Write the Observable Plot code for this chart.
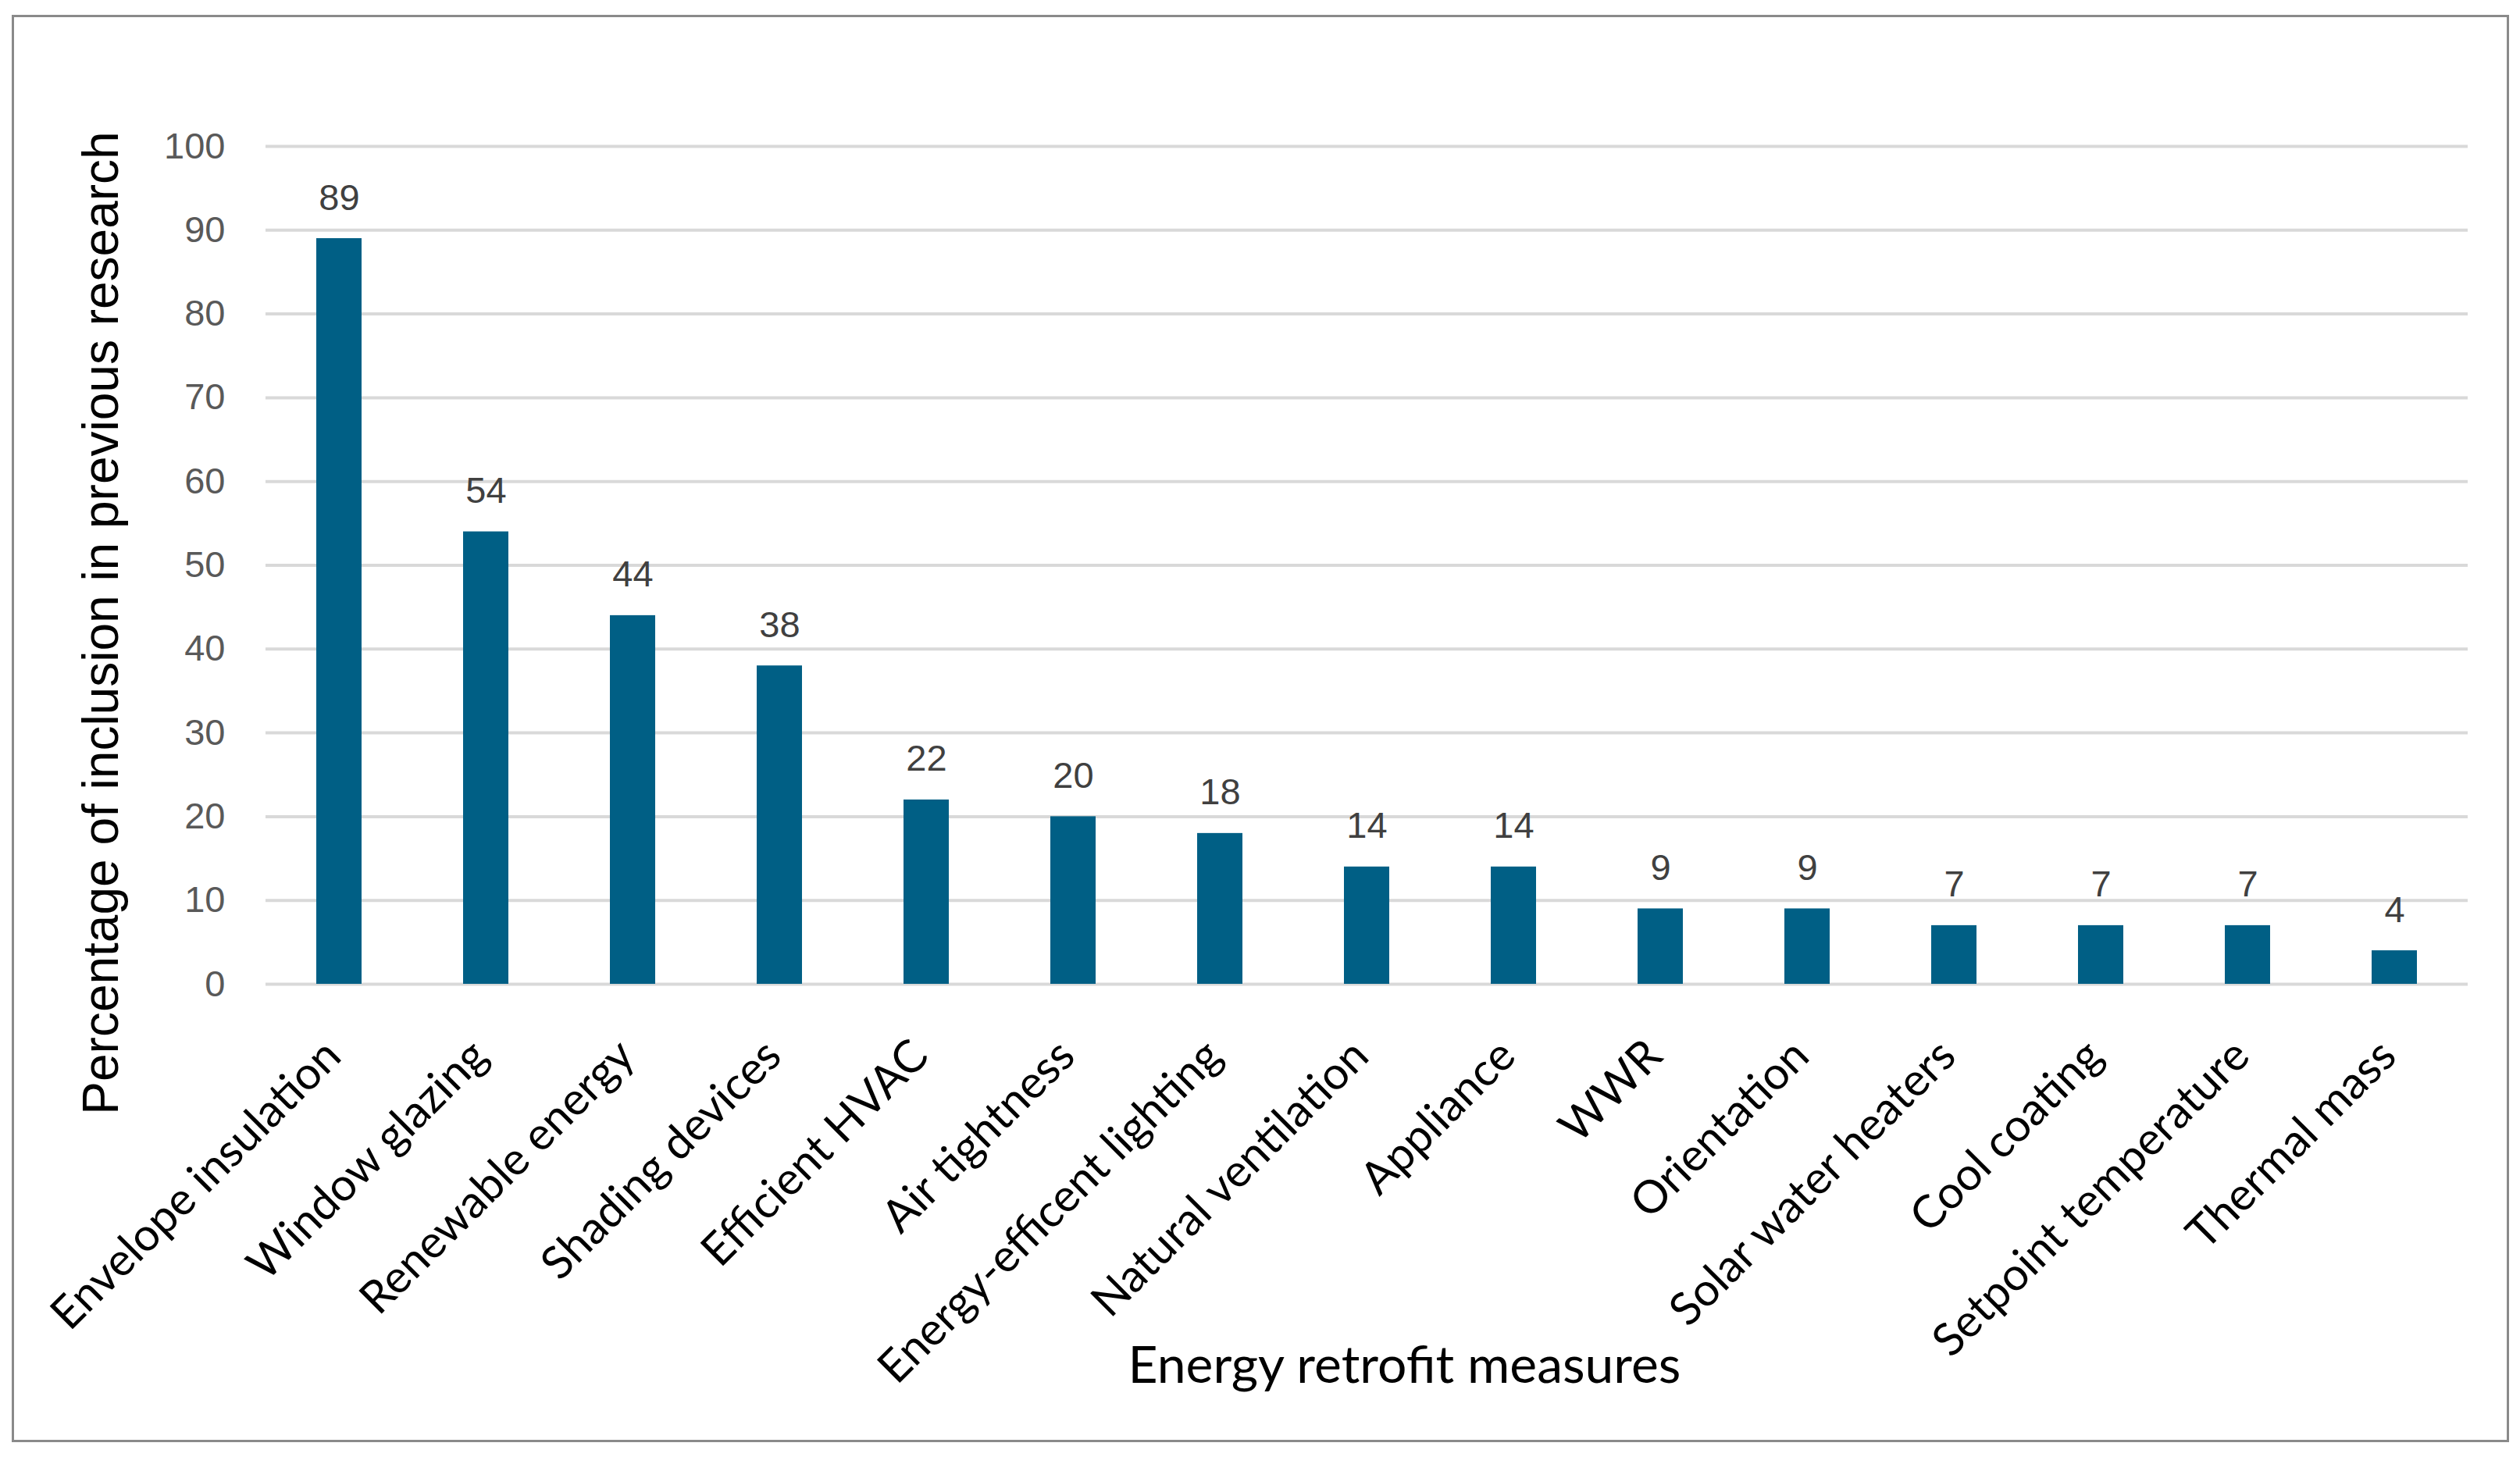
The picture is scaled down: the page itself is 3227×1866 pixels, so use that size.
<!DOCTYPE html>
<html>
<head>
<meta charset="utf-8">
<script src="https://cdn.jsdelivr.net/npm/d3@7"></script>
<script src="https://cdn.jsdelivr.net/npm/@observablehq/plot@0.6"></script>
<style>
  html, body { margin: 0; padding: 0; background: #fff; }
  #wrap { position: relative; width: 3227px; height: 1866px; overflow: hidden; }
  #border { position: absolute; left: 15px; top: 19px; width: 3192px; height: 1822px; border: 3px solid #8a8a8a; pointer-events: none; }
  #chart { position: absolute; left: 0; top: 0; }
</style>
</head>
<body>
<div id="wrap"><div id="chart"></div><div id="border"></div></div>
<script>
const measures = ["Envelope insulation","Window glazing","Renewable energy","Shading devices","Efficient HVAC","Air tightness","Energy-efficent lighting","Natural ventilation","Appliance","WWR","Orientation","Solar water heaters","Cool coating","Setpoint temperature","Thermal mass"];
const percentages = [89,54,44,38,22,20,18,14,14,9,9,7,7,7,4];
const yTicks = [0,10,20,30,40,50,60,70,80,90,100];
const yTitle = "Percentage of inclusion in previous research";
const xTitle = "Energy retrofit measures";

const data = measures.map((m, i) => ({measure: m, value: percentages[i]}));

const chart = Plot.plot({
  width: 3227,
  height: 1866,
  marginLeft: 340,
  marginRight: 67,
  marginTop: 187,
  marginBottom: 606,
  style: {background: "transparent", fontFamily: "Liberation Sans, Arial, sans-serif"},
  x: {domain: measures, paddingInner: 0.69, paddingOuter: 0.345, axis: null},
  y: {domain: [0, 100], axis: null},
  marks: [
    Plot.ruleY(yTicks, {stroke: "#d9d9d9", strokeWidth: 4}),
    Plot.barY(data, {x: "measure", y: "value", fill: "#005f85"}),
    Plot.axisY({ticks: yTicks, tickSize: 0, tickPadding: 52, fontSize: 47, fill: "#595959", fontFamily: "Liberation Sans, Arial, sans-serif", label: null}),
    Plot.text(data, {x: "measure", y: "value", text: d => String(d.value), dy: -52, lineAnchor: "middle", fontSize: 47, fill: "#404040", fontFamily: "Liberation Sans, Arial, sans-serif"}),
    Plot.text(data, {x: "measure", frameAnchor: "bottom", text: "measure", rotate: -45, textAnchor: "end", lineAnchor: "top", dx: -24, dy: 66, fontSize: 58, fill: "#000", fontFamily: "Lato, sans-serif"}),
    Plot.text([yTitle], {frameAnchor: "left", text: d => d, rotate: -90, textAnchor: "middle", dx: -210, dy: 74, lineAnchor: "middle", fontSize: 64, fill: "#000", fontFamily: "Liberation Sans, Arial, sans-serif"}),
    Plot.text([xTitle], {frameAnchor: "bottom", text: d => d, dx: 48, dy: 489, lineAnchor: "middle", fontSize: 66, fill: "#000", fontFamily: "Lato, sans-serif"})
  ]
});
document.getElementById("chart").appendChild(chart);
</script>
</body>
</html>
